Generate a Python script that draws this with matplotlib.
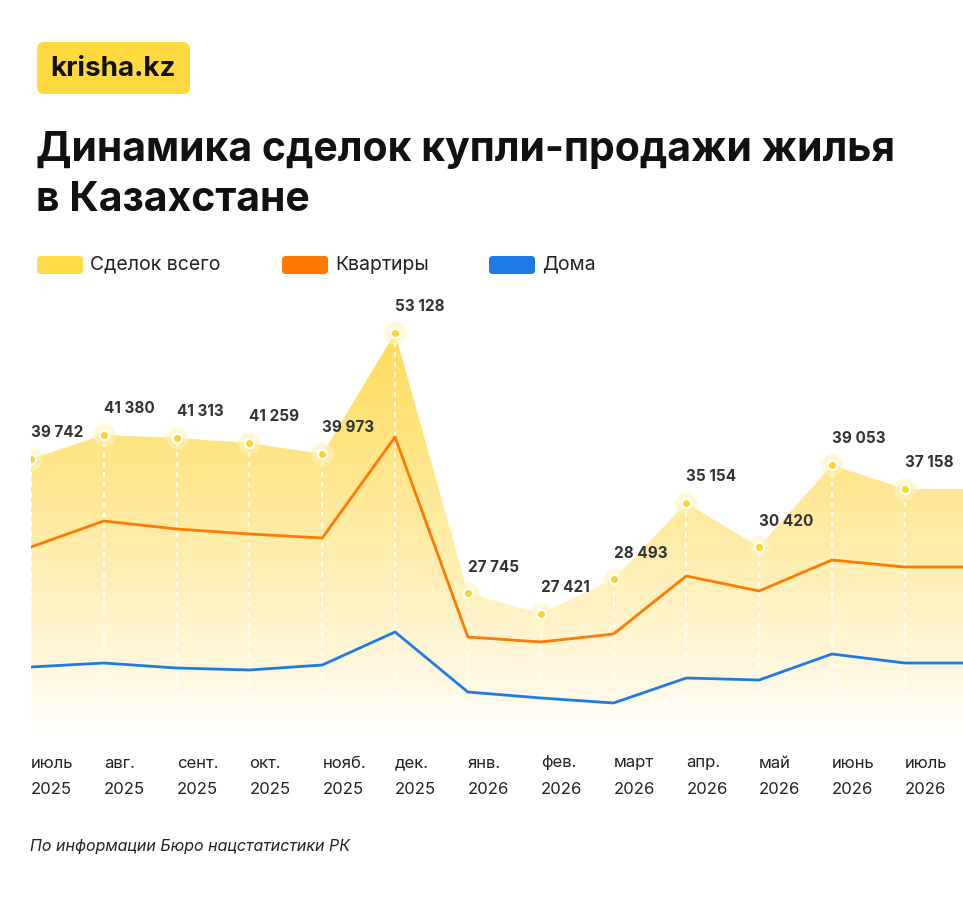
import numpy as np
import matplotlib.pyplot as plt
from matplotlib.patches import FancyBboxPatch, Polygon

months = ["июль", "авг.", "сент.", "окт.", "нояб.", "дек.", "янв.", "фев.",
          "март", "апр.", "май", "июнь", "июль"]
years = ["2025"] * 6 + ["2026"] * 7
total_labels = ["39 742", "41 380", "41 313", "41 259", "39 973", "53 128", "27 745",
                "27 421", "28 493", "35 154", "30 420", "39 053", "37 158"]
# heights as drawn on the chart (chart units)
total = [278, 302, 299, 294, 283, 404, 144, 123, 158, 234, 190, 272, 248]
flats = [190, 216, 208, 203, 199, 300, 100, 95, 103, 161, 146, 177, 170]
houses = [70, 74, 69, 67, 72, 105, 45, 39, 34, 59, 57, 83, 74]

YELLOW = "#ffdd4a"
ORANGE = "#ff7a00"
BLUE = "#1e7be6"
DARK = "#222222"

fig = plt.figure(figsize=(9.63, 9.0), dpi=100)
plt.rcParams['font.family'] = ['Inter', 'DejaVu Sans']

# logo
fig.patches.append(FancyBboxPatch((37 / 963, 1 - 94 / 900), 153 / 963, 52 / 900,
                                  boxstyle="round,pad=0,rounding_size=0.008",
                                  transform=fig.transFigure, fc="#ffd93d", ec="none"))
fig.text(113 / 963, 1 - 69 / 900, "krisha.kz", ha="center", va="center",
         fontsize=20, fontweight="bold", color="#111111")
fig.text(36 / 963, 1 - 150 / 900, "Динамика сделок купли-продажи жилья",
         fontsize=29.5, fontweight="bold", color="#111111", va="center")
fig.text(36 / 963, 1 - 200 / 900, "в Казахстане",
         fontsize=29.5, fontweight="bold", color="#111111", va="center")

# legend
for x0, col, lab in [(37, YELLOW, "Сделок всего"), (282, ORANGE, "Квартиры"), (489, BLUE, "Дома")]:
    fig.patches.append(FancyBboxPatch((x0 / 963, 1 - 274 / 900), 46 / 963, 18 / 900,
                                      boxstyle="round,pad=0,rounding_size=0.004",
                                      transform=fig.transFigure, fc=col, ec="none"))
    fig.text((x0 + 53) / 963, 1 - 265 / 900, lab, fontsize=14, va="center", color=DARK)

fig.text(30 / 963, 1 - 846 / 900, "По информации Бюро нацстатистики РК",
         fontsize=11.5, style="italic", va="center", color=DARK)

ax = fig.add_axes([31 / 963, 163 / 900, 932 / 963, 437 / 900])
x = np.arange(len(total), dtype=float)
xmax = 12.8
xe = np.append(x, xmax)
te = total + [total[-1]]
fe = flats + [flats[-1]]
he = houses + [houses[-1]]
ax.set_xlim(0, xmax)
ax.set_ylim(0, 437)
ax.axis("off")

# gradient fill under total
grad = np.linspace(0, 1, 256)
cols = np.ones((256, 1, 4))
top = np.array([1.0, 0.86, 0.35])
for i, g in enumerate(grad):
    cols[i, 0, :3] = 1 + (top - 1) * g ** 0.9
img = ax.imshow(cols, extent=[0, xmax, 0, 404], origin="lower", aspect="auto", zorder=1)
poly = Polygon(list(zip(xe, te)) + [(xmax, 0), (0, 0)], closed=True, fc="none", ec="none")
ax.add_patch(poly)
img.set_clip_path(poly)

ax.vlines(x, 0, total, colors="white", linestyles=(0, (3, 3)), lw=1.2, zorder=2)
ax.plot(xe, fe, color=ORANGE, lw=2, zorder=3)
ax.plot(xe, he, color=BLUE, lw=2, zorder=3)

ax.scatter(x, total, s=260, color="#fff4b8", alpha=0.6, zorder=4, lw=0)
ax.scatter(x, total, s=70, color="white", zorder=5, lw=0)
ax.scatter(x, total, s=25, color="#ffd42a", zorder=6, lw=0)
for xi, t, lab in zip(x, total, total_labels):
    ax.text(xi, t + 26, lab, ha="left", va="center", fontsize=11,
            fontweight="bold", color="#333333", zorder=7)
for xi, m, yv in zip(x, months, years):
    ax.text(xi, -26, m, ha="left", va="center", fontsize=12, color=DARK, clip_on=False)
    ax.text(xi, -53, yv, ha="left", va="center", fontsize=12, color=DARK, clip_on=False)

fig.savefig("out.png", dpi=100, facecolor="white")
